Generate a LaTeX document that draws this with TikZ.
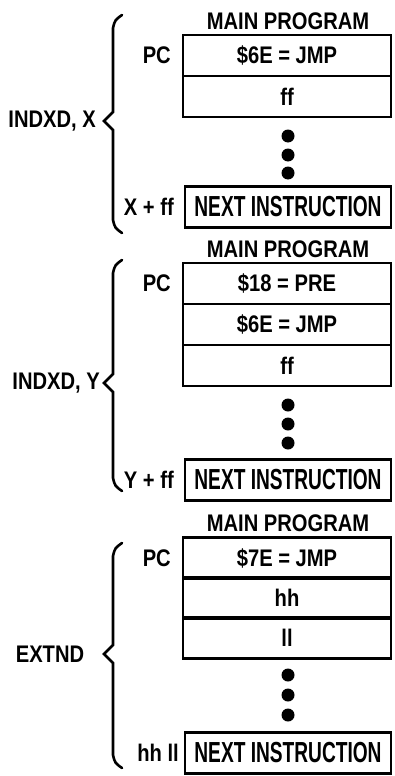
\documentclass[tikz,border=0pt]{standalone}
\usepackage{fontspec}
\setmainfont[FakeStretch=0.84]{Liberation Sans}
\newfontfamily\condfont[FakeStretch=0.66]{Liberation Sans}
\begin{document}
\begin{tikzpicture}[x=1pt,y=-1pt,
  txt/.style={font=\fontsize{24}{24}\selectfont\bfseries, inner sep=0pt},
  cell/.style={txt, draw, line width=2.6pt, minimum width=208pt, minimum height=41pt},
  nbox/.style={font=\condfont\fontsize{29}{29}\selectfont\bfseries, inner sep=0pt, draw, line width=2.6pt, minimum width=206pt, minimum height=41pt},
  dotn/.style={circle, fill, inner sep=0pt, minimum size=13pt},
  brc/.style={line width=2.6pt, line cap=round, line join=miter}]
\useasboundingbox (0,0) rectangle (395,776);

% ---------- Section 1: INDXD, X ----------
\node[txt] (mp1) at (288,21) {MAIN PROGRAM};
\node[cell] (c11) at (287,55.5) {\$6E = JMP};
\node[cell] (c12) at (287,96.5) {ff};
\node[dotn] (d11) at (288,136) {};
\node[dotn] (d12) at (288,155) {};
\node[dotn] (d13) at (288,173) {};
\node[nbox] (n1) at (288,207) {NEXT INSTRUCTION};
\node[txt, anchor=east] (pc1) at (171,55.5) {PC};
\node[txt, anchor=east] (xf) at (174,207) {X + ff};
\node[txt, anchor=east] (ix) at (96,121) {INDXD, X};
\draw[brc] (122,15) .. controls (115,20) .. (113,28) -- (113,112) -- (104,121) -- (113,130) -- (113,220) .. controls (115,228) .. (122,233);

% ---------- Section 2: INDXD, Y ----------
\node[txt] (mp2) at (288,249) {MAIN PROGRAM};
\node[cell] (c21) at (287,283.5) {\$18 = PRE};
\node[cell] (c22) at (287,324.5) {\$6E = JMP};
\node[cell] (c23) at (287,365.5) {ff};
\node[dotn] (d21) at (288,405) {};
\node[dotn] (d22) at (288,424) {};
\node[dotn] (d23) at (288,443) {};
\node[nbox] (n2) at (288,480) {NEXT INSTRUCTION};
\node[txt, anchor=east] (pc2) at (171,283.5) {PC};
\node[txt, anchor=east] (yf) at (174,480) {Y + ff};
\node[txt, anchor=east] (iy) at (100,383) {INDXD, Y};
\draw[brc] (122,260) .. controls (115,265) .. (113,273) -- (113,374) -- (104,383) -- (113,392) -- (113,478) .. controls (115,486) .. (122,491);

% ---------- Section 3: EXTND ----------
\node[txt] (mp3) at (288,523) {MAIN PROGRAM};
\node[cell] (c31) at (287,558) {\$7E = JMP};
\node[cell] (c32) at (287,598) {hh};
\node[cell] (c33) at (287,638) {ll};
\node[dotn] (d31) at (288,675) {};
\node[dotn] (d32) at (288,695) {};
\node[dotn] (d33) at (288,715) {};
\node[nbox] (n3) at (288,753) {NEXT INSTRUCTION};
\node[txt, anchor=east] (pc3) at (171,558) {PC};
\node[txt, anchor=east] (hl) at (179,753) {hh ll};
\node[txt] (ex) at (50,654) {EXTND};
\draw[brc] (122,543) .. controls (115,548) .. (113,556) -- (113,645) -- (104,654) -- (113,663) -- (113,755) .. controls (115,763) .. (122,768);
\end{tikzpicture}
\end{document}
